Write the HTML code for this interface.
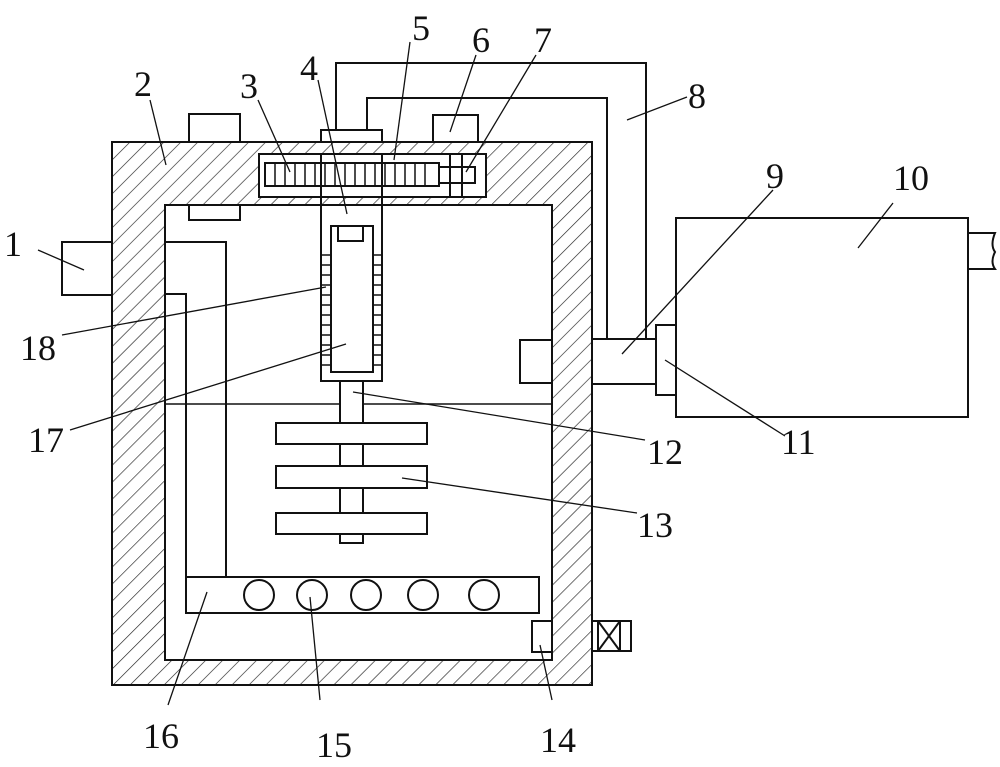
<!DOCTYPE html>
<html><head><meta charset="utf-8"><style>
html,body{margin:0;padding:0;background:#fff;}
svg{display:block;}
text{font-family:"Liberation Serif",serif;font-size:36px;fill:#111;}
</style></head><body>
<svg width="1000" height="767" viewBox="0 0 1000 767" xmlns="http://www.w3.org/2000/svg">
<defs>
<pattern id="h" width="12" height="12" patternUnits="userSpaceOnUse" patternTransform="rotate(45)">
<rect width="12" height="12" fill="#fff"/>
<line x1="0" y1="0" x2="0" y2="12" stroke="#222" stroke-width="1.3"/>
</pattern>
</defs>
<g fill="none" stroke="#111" stroke-width="2">
<!-- pipe 8 -->
<polyline points="336,130 336,63 646,63 646,339"/>
<polyline points="367,130 367,98 607,98 607,339"/>
<!-- top boxes -->
<rect x="189" y="114" width="51" height="28" fill="#fff"/>
<rect x="433" y="115" width="45" height="27" fill="#fff"/>
<rect x="321" y="130" width="61" height="12" fill="#fff"/>
<!-- outer hatched body -->
<rect x="112" y="142" width="480" height="543" fill="url(#h)"/>
<rect x="165" y="205" width="387" height="455" fill="#fff"/>
<!-- rack housing -->
<rect x="259" y="154" width="227" height="43" fill="#fff"/>
<line x1="321" y1="154" x2="321" y2="205"/>
<line x1="382" y1="154" x2="382" y2="205"/>
<rect x="265" y="163" width="174" height="23"/>
<g stroke-width="1.5">
<line x1="275" y1="163" x2="275" y2="186"/><line x1="285" y1="163" x2="285" y2="186"/><line x1="295" y1="163" x2="295" y2="186"/><line x1="305" y1="163" x2="305" y2="186"/><line x1="315" y1="163" x2="315" y2="186"/><line x1="325" y1="163" x2="325" y2="186"/><line x1="335" y1="163" x2="335" y2="186"/><line x1="345" y1="163" x2="345" y2="186"/><line x1="355" y1="163" x2="355" y2="186"/><line x1="365" y1="163" x2="365" y2="186"/><line x1="375" y1="163" x2="375" y2="186"/><line x1="385" y1="163" x2="385" y2="186"/><line x1="395" y1="163" x2="395" y2="186"/><line x1="405" y1="163" x2="405" y2="186"/><line x1="415" y1="163" x2="415" y2="186"/><line x1="425" y1="163" x2="425" y2="186"/>
</g>
<rect x="439" y="167" width="36" height="16"/>
<line x1="450" y1="154" x2="450" y2="197"/>
<line x1="462" y1="154" x2="462" y2="197"/>
<!-- left small box under top -->
<rect x="189" y="205" width="51" height="15"/>
<!-- vertical column -->
<rect x="321" y="205" width="61" height="176" fill="#fff"/>
<rect x="331" y="226" width="42" height="146"/>
<rect x="338" y="226" width="25" height="15"/>
<g stroke-width="1.5">
<line x1="321" y1="255" x2="331" y2="255"/><line x1="321" y1="265" x2="331" y2="265"/><line x1="321" y1="275" x2="331" y2="275"/><line x1="321" y1="285" x2="331" y2="285"/><line x1="321" y1="295" x2="331" y2="295"/><line x1="321" y1="305" x2="331" y2="305"/><line x1="321" y1="315" x2="331" y2="315"/><line x1="321" y1="325" x2="331" y2="325"/><line x1="321" y1="335" x2="331" y2="335"/><line x1="321" y1="345" x2="331" y2="345"/><line x1="321" y1="355" x2="331" y2="355"/><line x1="321" y1="365" x2="331" y2="365"/>
<line x1="373" y1="255" x2="382" y2="255"/><line x1="373" y1="265" x2="382" y2="265"/><line x1="373" y1="275" x2="382" y2="275"/><line x1="373" y1="285" x2="382" y2="285"/><line x1="373" y1="295" x2="382" y2="295"/><line x1="373" y1="305" x2="382" y2="305"/><line x1="373" y1="315" x2="382" y2="315"/><line x1="373" y1="325" x2="382" y2="325"/><line x1="373" y1="335" x2="382" y2="335"/><line x1="373" y1="345" x2="382" y2="345"/><line x1="373" y1="355" x2="382" y2="355"/><line x1="373" y1="365" x2="382" y2="365"/>
</g>
<!-- shaft & liquid line -->
<line x1="165" y1="404" x2="552" y2="404" stroke-width="1.5"/>
<rect x="340" y="381" width="23" height="162" fill="#fff"/>
<rect x="276" y="423" width="151" height="21" fill="#fff"/>
<rect x="276" y="466" width="151" height="22" fill="#fff"/>
<rect x="276" y="513" width="151" height="21" fill="#fff"/>
<!-- left pipe -->
<polyline points="165,242 226,242 226,577"/>
<polyline points="165,294 186,294 186,613"/>
<!-- bar 16 -->
<rect x="186" y="577" width="353" height="36"/>
<circle cx="259" cy="595" r="15"/><circle cx="312" cy="595" r="15"/><circle cx="366" cy="595" r="15"/><circle cx="423" cy="595" r="15"/><circle cx="484" cy="595" r="15"/>
<!-- 14 and valve -->
<rect x="532" y="621" width="20" height="31"/>
<rect x="592" y="621" width="39" height="30"/>
<rect x="598" y="621" width="22" height="30"/>
<line x1="598" y1="621" x2="620" y2="651"/><line x1="620" y1="621" x2="598" y2="651"/>
<!-- 1 -->
<rect x="62" y="242" width="50" height="53"/>
<!-- right side -->
<rect x="520" y="340" width="32" height="43"/>
<rect x="592" y="339" width="64" height="45"/>
<rect x="656" y="325" width="20" height="70"/>
<rect x="676" y="218" width="292" height="199"/>
<path d="M968,233 H995 Q990,245 995,252 Q990,262 995,269 H968"/>
</g>
<!-- leaders -->
<g stroke="#111" stroke-width="1.3" fill="none">
<line x1="38" y1="250" x2="84" y2="270"/>
<line x1="150" y1="100" x2="166" y2="165"/>
<line x1="258" y1="100" x2="290" y2="172"/>
<line x1="318" y1="80" x2="347" y2="214"/>
<line x1="410" y1="42" x2="394" y2="160"/>
<line x1="476" y1="55" x2="450" y2="132"/>
<line x1="536" y1="55" x2="466" y2="172"/>
<line x1="687" y1="97" x2="627" y2="120"/>
<line x1="773" y1="190" x2="622" y2="354"/>
<line x1="893" y1="203" x2="858" y2="248"/>
<line x1="785" y1="436" x2="665" y2="360"/>
<line x1="645" y1="440" x2="353" y2="392"/>
<line x1="637" y1="513" x2="402" y2="478"/>
<line x1="552" y1="700" x2="540" y2="645"/>
<line x1="320" y1="700" x2="310" y2="597"/>
<line x1="168" y1="705" x2="207" y2="592"/>
<line x1="70" y1="430" x2="346" y2="344"/>
<line x1="62" y1="335" x2="326" y2="287"/>
</g>
<text x="4" y="256">1</text>
<text x="134" y="96">2</text>
<text x="240" y="98">3</text>
<text x="300" y="80">4</text>
<text x="412" y="40">5</text>
<text x="472" y="52">6</text>
<text x="534" y="52">7</text>
<text x="688" y="108">8</text>
<text x="766" y="188">9</text>
<text x="893" y="190">10</text>
<text x="781" y="454">11</text>
<text x="647" y="464">12</text>
<text x="637" y="537">13</text>
<text x="540" y="752">14</text>
<text x="316" y="757">15</text>
<text x="143" y="748">16</text>
<text x="28" y="452">17</text>
<text x="20" y="360">18</text>
</svg>
</body></html>
